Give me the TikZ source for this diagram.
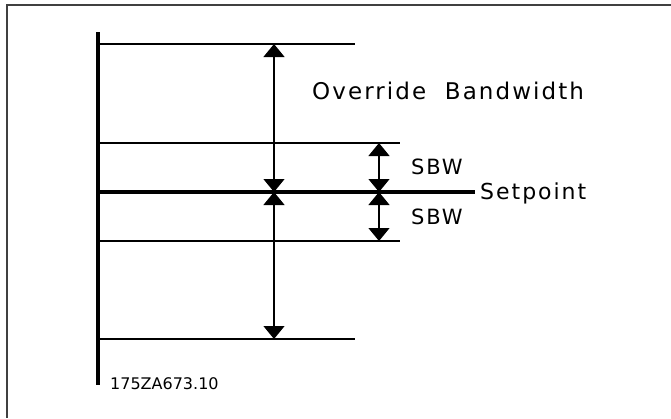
\documentclass[tikz,border=0pt]{standalone}
\usepackage{fontspec}
\usetikzlibrary{arrows.meta}
\newfontfamily\cadfont[LetterSpace=9]{DejaVu Sans}
\newfontfamily\cadnum{DejaVu Sans}

\begin{document}
\begin{tikzpicture}[x=1pt, y=-1pt,
    frame/.style={draw=black!75, line width=1.5pt},
    level/.style={line width=1.3pt},
    axis/.style={line width=4pt},
    dimarrow/.style={line width=1.3pt, {Triangle[length=13pt,width=21pt]}-{Triangle[length=13pt,width=21pt]}},
    lbl/.style={inner sep=0pt, font=\cadfont}]

    \useasboundingbox (0,0) rectangle (671,418);

    % --- Marco ---
    \coordinate (fr) at (671,5);
    \coordinate (fc) at (7,5);
    \coordinate (fb) at (7,418);
    \draw [frame] (fr) -- (fc) -- (fb);

    % --- Niveles ---
    \coordinate (axtop) at (98,32);
    \coordinate (axbot) at (98,385);
    \coordinate (top0) at (98,44);   \coordinate (top1) at (355,44);
    \coordinate (hi0) at (98,143);   \coordinate (hi1) at (400,143);
    \coordinate (sp0) at (98,192);   \coordinate (sp1) at (475,192);
    \coordinate (lo0) at (98,241);   \coordinate (lo1) at (400,241);
    \coordinate (bot0) at (98,339);  \coordinate (bot1) at (355,339);

    \draw [axis] (axtop) -- (axbot);
    \draw [level] (top0) -- (top1);
    \draw [level] (hi0) -- (hi1);
    \draw [level] (lo0) -- (lo1);
    \draw [level] (bot0) -- (bot1);
    \draw [axis] (sp0) -- (sp1);

    % --- Cotas ---
    \coordinate (obtop) at (274,44);
    \coordinate (obmid) at (274,192);
    \coordinate (obbot) at (274,339);
    \coordinate (sbtop) at (379,143);
    \coordinate (sbmid) at (379,192);
    \coordinate (sbbot) at (379,241);

    \draw [dimarrow] (obmid) -- (obtop);
    \draw [dimarrow] (obmid) -- (obbot);
    \draw [dimarrow] (sbmid) -- (sbtop);
    \draw [dimarrow] (sbmid) -- (sbbot);

    % --- Textos ---
    \node (override) [lbl, anchor=west, font=\cadfont\fontsize{23}{27}\selectfont] at (312,91) {Override\ \ Bandwidth};
    \node (sbwup) [lbl, anchor=west, font=\cadfont\fontsize{21}{25}\selectfont] at (411,167) {SBW};
    \node (sbwdn) [lbl, anchor=west, font=\cadfont\fontsize{21}{25}\selectfont] at (411,217) {SBW};
    \node (setp) [lbl, anchor=west, font=\cadfont\fontsize{22}{26}\selectfont] at (480,193) {Setpoint};
    \node (code) [lbl, anchor=west, font=\cadnum\fontsize{16}{19}\selectfont] at (110,384) {175ZA673.10};

\end{tikzpicture}
\end{document}
